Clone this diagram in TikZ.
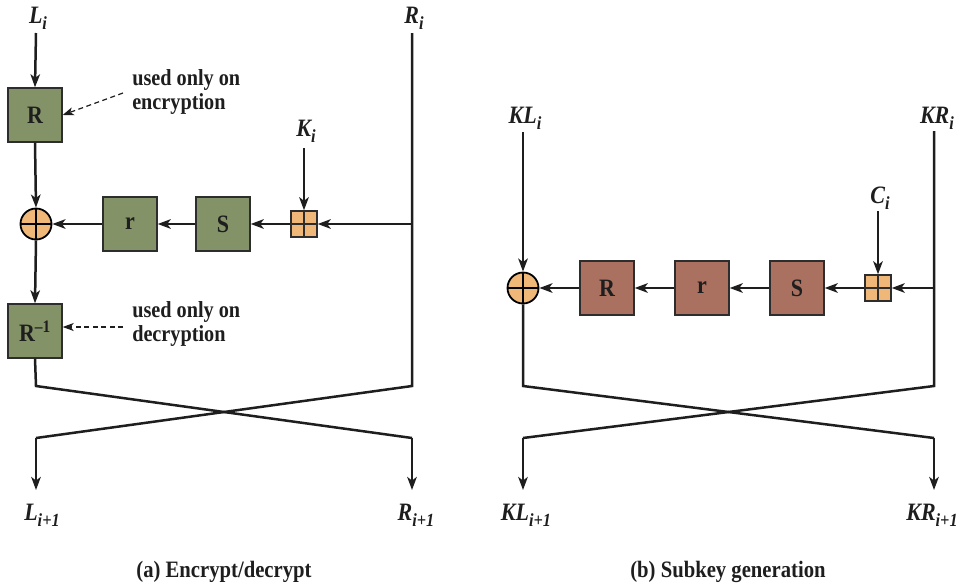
\documentclass[tikz,border=0pt]{standalone}
\usepackage{fontspec}
\setmainfont{Liberation Serif}[FakeStretch=0.88]
\usetikzlibrary{arrows.meta}
\definecolor{boxgreen}{RGB}{132,146,104}
\definecolor{boxbrown}{RGB}{170,113,96}
\definecolor{xororange}{RGB}{240,184,120}
\definecolor{edgegray}{RGB}{45,45,45}
\newcommand{\lsub}[1]{\raisebox{-0.24em}{\fontsize{18.5}{18.5}\selectfont #1}}
\begin{document}
\begin{tikzpicture}[x=1pt,y=-1pt,
  line width=2.5pt, color={rgb,255:red,30;green,30;blue,30},
  arr/.style={-{Stealth[length=13pt,width=9.5pt,inset=3.5pt]}},
  darr/.style={line width=1.2pt,dash pattern=on 5pt off 3.5pt,-{Stealth[length=11pt,width=8pt,inset=3pt]}},
  gbox/.style={draw=edgegray,line width=1.4pt,fill=boxgreen,minimum size=54pt,inner sep=0pt,font=\fontsize{25}{27}\selectfont\bfseries},
  bbox/.style={gbox,fill=boxbrown},
  xorc/.style={circle,draw=black,line width=1.8pt,fill=xororange,minimum size=31pt,inner sep=0pt,
    path picture={\draw[line width=1.8pt] (path picture bounding box.north) -- (path picture bounding box.south)
      (path picture bounding box.west) -- (path picture bounding box.east);}},
  addb/.style={rectangle,draw=edgegray,line width=1.4pt,fill=xororange,minimum size=26pt,inner sep=0pt,
    path picture={\draw[line width=1.4pt] (path picture bounding box.north) -- (path picture bounding box.south)
      (path picture bounding box.west) -- (path picture bounding box.east);}},
  lbl/.style={inner sep=0pt,font=\fontsize{25}{27}\selectfont\bfseries\itshape},
  note/.style={inner sep=0pt,anchor=west,align=left,font=\fontsize{23}{24.5}\selectfont\bfseries},
  captext/.style={inner sep=0pt,font=\fontsize{23.5}{26}\selectfont\bfseries}
]
\useasboundingbox (0,0) rectangle (964,584);

% ---------- (a) Encrypt/decrypt ----------
\node[lbl] (Li) at (38,18) {L\lsub{i}};
\node[lbl] (Ri) at (414,18) {R\lsub{i}};
\coordinate (LiT) at (36,33);
\coordinate (RiT) at (412,33);
\node[gbox] (RA) at (35,115) {R};
\node[xorc] (xorA) at (36,224) {};
\node[gbox] (rA) at (130,224) {r};
\node[gbox] (SA) at (223,224) {S};
\node[addb] (addA) at (304,224) {};
\node[lbl] (Ki) at (306,131) {K\lsub{i}};
\coordinate (KiT) at (304,148);
\coordinate (RiJ) at (412,224);
\node[gbox] (RinvA) at (35,331) {R\textsuperscript{–1}};

\draw[arr] (LiT) -- (RA.north);
\draw[arr] (RA.south) -- (xorA.north);
\draw[arr] (xorA.south) -- (RinvA.north);
\draw[arr] (rA.west) -- (xorA.east);
\draw[arr] (SA.west) -- (rA.east);
\draw[arr] (addA.west) -- (SA.east);
\draw[arr] (KiT) -- (addA.north);
\draw[arr] (RiJ) -- (addA.east);

\coordinate (aTL) at (36,386);
\coordinate (aTR) at (412,386);
\coordinate (aBL) at (36,438);
\coordinate (aBR) at (412,438);
\coordinate (aEL) at (36,490);
\coordinate (aER) at (412,490);
\draw (RiT) -- (aTR) -- (aBL);
\draw[arr] (aBL) -- (aEL);
\draw (RinvA.south) -- (aTL) -- (aBR);
\draw[arr] (aBR) -- (aER);
\node[lbl] (Li1) at (42,515) {L\lsub{i+1}};
\node[lbl] (Ri1) at (416,515) {R\lsub{i+1}};

\node[note] (encN) at (131,92) {used only on\\encryption};
\node[note] (decN) at (131,324) {used only on\\decryption};
\coordinate (encS) at (123,93);
\coordinate (decS) at (123,327);
\draw[darr] (encS) -- (RA.east);
\draw[darr] (decS) -- (decS -| RinvA.east);

\node[captext] (capA) at (224,572) {(a) Encrypt/decrypt};

% ---------- (b) Subkey generation ----------
\node[lbl] (KLi) at (525,118) {KL\lsub{i}};
\node[lbl] (KRi) at (937,118) {KR\lsub{i}};
\coordinate (KLiT) at (523,132);
\coordinate (KRiT) at (934,131);
\node[xorc] (xorB) at (523,288) {};
\node[bbox] (RB) at (607,288) {R};
\node[bbox] (rB) at (702,288) {r};
\node[bbox] (SB) at (797,288) {S};
\node[addb] (addB) at (878,288) {};
\node[lbl] (Ci) at (880,198) {C\lsub{i}};
\coordinate (CiT) at (878,211);
\coordinate (KRiJ) at (934,288);

\draw[arr] (KLiT) -- (xorB.north);
\draw[arr] (RB.west) -- (xorB.east);
\draw[arr] (rB.west) -- (RB.east);
\draw[arr] (SB.west) -- (rB.east);
\draw[arr] (addB.west) -- (SB.east);
\draw[arr] (CiT) -- (addB.north);
\draw[arr] (KRiJ) -- (addB.east);

\coordinate (bTL) at (523,386);
\coordinate (bTR) at (934,386);
\coordinate (bBL) at (523,438);
\coordinate (bBR) at (934,438);
\coordinate (bEL) at (523,490);
\coordinate (bER) at (934,490);
\draw (KRiT) -- (bTR) -- (bBL);
\draw[arr] (bBL) -- (bEL);
\draw (xorB.south) -- (bTL) -- (bBR);
\draw[arr] (bBR) -- (bER);
\node[lbl] (KLi1) at (526,515) {KL\lsub{i+1}};
\node[lbl] (KRi1) at (932,515) {KR\lsub{i+1}};

\node[captext] (capB) at (728,572) {(b) Subkey generation};
\end{tikzpicture}
\end{document}
